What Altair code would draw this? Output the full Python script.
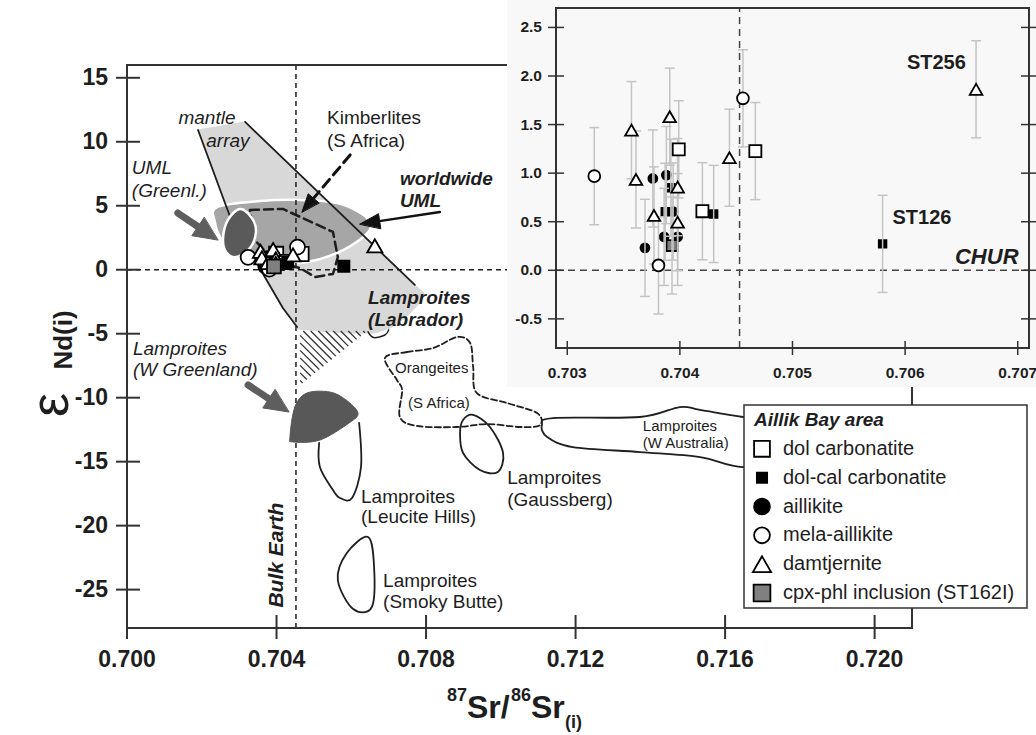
import math
import altair as alt
import pandas as pd

FONT = "Liberation Sans"
INK = "#1e1e1e"
AXIS = "#333333"

# ---------------------------------------------------------------------------
# Aillik Bay samples: initial 87Sr/86Sr, initial eNd and 2-sigma error on eNd
# ---------------------------------------------------------------------------
CATS = ["dol carbonatite", "dol-cal carbonatite", "aillikite",
        "mela-aillikite", "damtjernite", "cpx-phl inclusion (ST162I)"]

dol_sr = [0.70399, 0.70420, 0.70467]
dol_nd = [1.245, 0.608, 1.227]
dol_err = [0.5, 0.5, 0.5]

dolcal_sr = [0.70392, 0.70387, 0.70430, 0.70580]
dolcal_nd = [0.850, 0.602, 0.580, 0.272]
dolcal_err = [0.5, 0.5, 0.5, 0.5]

aill_sr = [0.70376, 0.70388, 0.70369, 0.70394, 0.70386, 0.70398]
aill_nd = [0.945, 0.980, 0.231, 0.605, 0.344, 0.344]
aill_err = [0.5, 0.5, 0.5, 0.5, 0.5, 0.5]

mela_sr = [0.70324, 0.70381, 0.70456]
mela_nd = [0.969, 0.050, 1.770]
mela_err = [0.5, 0.5, 0.5]

damt_sr = [0.70357, 0.70361, 0.70377, 0.70391, 0.70398, 0.70398, 0.70444, 0.70663]
damt_nd = [1.443, 0.935, 0.564, 1.581, 0.856, 0.495, 1.159, 1.863]
damt_err = [0.5, 0.5, 0.5, 0.5, 0.5, 0.5, 0.5, 0.5]

cpx_sr = [0.70393]
cpx_nd = [0.255]
cpx_err = [0.5]

SERIES = [(CATS[0], dol_sr, dol_nd, dol_err),
          (CATS[1], dolcal_sr, dolcal_nd, dolcal_err),
          (CATS[2], aill_sr, aill_nd, aill_err),
          (CATS[3], mela_sr, mela_nd, mela_err),
          (CATS[4], damt_sr, damt_nd, damt_err),
          (CATS[5], cpx_sr, cpx_nd, cpx_err)]

SHAPE = {CATS[0]: "square", CATS[1]: "square", CATS[2]: "circle",
         CATS[3]: "circle", CATS[4]: "triangle-up", CATS[5]: "square"}
FILL = {CATS[0]: "white", CATS[1]: "black", CATS[2]: "black",
        CATS[3]: "white", CATS[4]: "white", CATS[5]: "#808080"}
OPEN = {CATS[0], CATS[3], CATS[4]}
SIZE_MAIN = {CATS[0]: 200, CATS[1]: 125, CATS[2]: 170, CATS[3]: 225, CATS[4]: 230, CATS[5]: 190}
SIZE_INSET = {CATS[0]: 145, CATS[1]: 58, CATS[2]: 80, CATS[3]: 140, CATS[4]: 160, CATS[5]: 120}
SIZE_KEY = {CATS[0]: 250, CATS[1]: 105, CATS[2]: 250, CATS[3]: 250, CATS[4]: 330, CATS[5]: 280}

rows = []
for cat, xs, ys, es in SERIES:
    for x, y, e in zip(xs, ys, es):
        rows.append({"cat": cat, "sr": x, "nd": y, "lo": y - e, "hi": y + e,
                     "shape": SHAPE[cat], "fill": FILL[cat],
                     "s_main": SIZE_MAIN[cat], "s_inset": SIZE_INSET[cat],
                     "open": cat in OPEN})
samples = pd.DataFrame(rows)

# ---------------------------------------------------------------------------
# Scales: main diagram and inset share the canvas, each with its own pixels
# ---------------------------------------------------------------------------
MX_DOM, MX_RNG = [0.700, 0.721], [127, 912]
MY_DOM, MY_RNG = [-28, 16], [628, 65]
IX_DOM, IX_RNG = [0.7029, 0.7071], [556, 1029]
IY_DOM, IY_RNG = [-0.8, 2.7], [348, 8]
W, H = 1036, 735

MX = alt.Scale(domain=MX_DOM, range=MX_RNG, nice=False, zero=False)
MY = alt.Scale(domain=MY_DOM, range=MY_RNG, nice=False, zero=False)
IX = alt.Scale(domain=IX_DOM, range=IX_RNG, nice=False, zero=False)
IY = alt.Scale(domain=IY_DOM, range=IY_RNG, nice=False, zero=False)

# pixel size of one data unit on each scale (used for tick lengths / label gaps)
MXU = (MX_RNG[1] - MX_RNG[0]) / (MX_DOM[1] - MX_DOM[0])
MYU = (MY_RNG[0] - MY_RNG[1]) / (MY_DOM[1] - MY_DOM[0])
IXU = (IX_RNG[1] - IX_RNG[0]) / (IX_DOM[1] - IX_DOM[0])
IYU = (IY_RNG[0] - IY_RNG[1]) / (IY_DOM[1] - IY_DOM[0])


def m_px(sr, nd):
    return (MX_RNG[0] + (sr - MX_DOM[0]) * MXU, MY_RNG[0] - (nd - MY_DOM[0]) * MYU)


def m_data(px, py):
    return (MX_DOM[0] + (px - MX_RNG[0]) / MXU, MY_DOM[0] + (MY_RNG[0] - py) / MYU)


def mxy(xf="sr", yf="nd"):
    return dict(x=alt.X(f"{xf}:Q", scale=MX, axis=None), y=alt.Y(f"{yf}:Q", scale=MY, axis=None))


def ixy(xf="sr", yf="nd"):
    return dict(x=alt.X(f"{xf}:Q", scale=IX, axis=None), y=alt.Y(f"{yf}:Q", scale=IY, axis=None))


def shape_layer(pts, interp="linear-closed", fill="transparent", stroke="transparent",
                width=1.0, dash=None):
    df = pd.DataFrame({"sr": [p[0] for p in pts], "nd": [p[1] for p in pts],
                       "i": list(range(len(pts)))})
    kw = dict(interpolate=interp, fill=fill, stroke=stroke, strokeWidth=width,
              strokeJoin="round", strokeCap="round")
    if dash:
        kw["strokeDash"] = dash
    return alt.Chart(df).mark_line(**kw).encode(order="i:Q", **mxy())


def arrow_layers(tail, tip, color, shaft, head_len, head_w, dash=None):
    (x0, y0), (x1, y1) = m_px(*tail), m_px(*tip)
    L = math.hypot(x1 - x0, y1 - y0)
    ux, uy = (x1 - x0) / L, (y1 - y0) / L
    bx, by = x1 - ux * head_len, y1 - uy * head_len
    nx, ny = -uy, ux
    head = [m_data(x1, y1),
            m_data(bx + nx * head_w / 2, by + ny * head_w / 2),
            m_data(bx - nx * head_w / 2, by - ny * head_w / 2)]
    line_end = m_data(bx + ux * 2, by + uy * 2)
    kw = dict(interp="linear", stroke=color, width=shaft)
    if dash:
        kw["dash"] = dash
    return [shape_layer([tail, line_end], **kw),
            shape_layer(head, fill=color, stroke=color, width=1)]


def hatch_frame(poly, step):
    pts = [m_px(*p) for p in poly]
    cs = [y - x for x, y in pts]
    segs = []
    c = min(cs) + step / 2
    while c < max(cs):
        hits = []
        for (ax, ay), (bx, by) in zip(pts, pts[1:] + pts[:1]):
            den = (by - ay) - (bx - ax)
            if abs(den) < 1e-9:
                continue
            t = (ax + c - ay) / den
            if 0 <= t <= 1:
                hits.append((ax + t * (bx - ax), ay + t * (by - ay)))
        hits.sort()
        if len(hits) >= 2:
            a, b = m_data(*hits[0]), m_data(*hits[-1])
            segs.append({"sr": a[0], "nd": a[1], "sr2": b[0], "nd2": b[1]})
        c += step
    return pd.DataFrame(segs)


# ---------------------------------------------------------------------------
# Reference fields of the main Sr-Nd diagram (87Sr/86Sr, eNd)
# ---------------------------------------------------------------------------
mantle_left = [(0.70190, 10.92), (0.70276, 4.12), (0.70364, -0.33), (0.70417, -2.99), (0.70455, -4.48)]
mantle_right = [(0.70316, 11.55), (0.70770, -1.19)]
mantle_field = [(0.70190, 10.92), (0.70316, 11.55), (0.70770, -1.19), (0.70795, -1.82),
                (0.70778, -2.76), (0.70744, -3.77), (0.70704, -4.56), (0.70663, -4.95),
                (0.70597, -4.95), (0.70516, -4.79), (0.70455, -4.63), (0.70455, -4.48),
                (0.70417, -2.99), (0.70364, -0.33), (0.70276, 4.12)]
labrador_hatch = [(0.70463, -4.79), (0.70642, -4.79), (0.70463, -9.01)]
labrador_hook = [(0.70645, -4.85), (0.70660, -5.30), (0.70690, -5.10), (0.70700, -4.70)]
uml_world = [(0.70241, 4.90), (0.70356, 5.37), (0.70463, 5.45), (0.70562, 5.21), (0.70629, 4.35),
             (0.70653, 3.41), (0.70629, 2.48), (0.70562, 1.31), (0.70482, 0.60), (0.70383, 0.45),
             (0.70303, 0.92), (0.70254, 2.32), (0.70235, 3.73)]
uml_greenland = [(0.70302, 4.75), (0.70334, 4.04), (0.70345, 2.95), (0.70329, 1.70),
                 (0.70292, 0.99), (0.70265, 1.39), (0.70257, 2.48), (0.70270, 3.89)]
kimberlites = [(0.70329, 4.67), (0.70417, 4.75), (0.70551, 2.95), (0.70564, 0.99),
               (0.70551, -0.33), (0.70503, -0.57), (0.70463, 0.13), (0.70396, 0.60),
               (0.70342, 2.32)]
w_greenland = [(0.70436, -13.07), (0.70449, -10.73), (0.70481, -9.64), (0.70543, -9.56),
               (0.70586, -10.18), (0.70618, -11.20), (0.70594, -11.98), (0.70516, -13.31),
               (0.70444, -13.46)]
leucite_hills = [(0.70514, -13.54), (0.70516, -15.42), (0.70551, -17.22), (0.70570, -17.84),
                 (0.70602, -17.84), (0.70626, -15.42), (0.70621, -11.98)]
smoky_butte = [(0.70645, -20.89), (0.70661, -23.23), (0.70655, -26.36), (0.70605, -26.52),
               (0.70564, -24.25), (0.70588, -22.14)]
orangeites = [(0.70690, -6.90), (0.70749, -6.43), (0.70819, -6.12), (0.70883, -5.26),
              (0.70918, -5.73), (0.70926, -7.60), (0.70936, -9.64), (0.71017, -10.42),
              (0.71097, -11.20), (0.71105, -12.14), (0.71051, -12.29), (0.70963, -12.06),
              (0.70883, -12.29), (0.70776, -12.21), (0.70730, -11.51), (0.70736, -9.40),
              (0.70722, -8.62)]
gaussberg = [(0.70899, -11.75), (0.70926, -11.35), (0.70971, -12.29), (0.71006, -14.32),
             (0.70992, -15.81), (0.70944, -15.65), (0.70899, -14.32), (0.70891, -12.76)]
w_australia = [(0.71110, -12.14), (0.71140, -11.59), (0.71372, -11.51), (0.71479, -10.73),
               (0.71533, -10.96), (0.71648, -11.51), (0.71800, -12.14), (0.71800, -14.87),
               (0.71648, -15.42), (0.71533, -14.64), (0.71372, -14.25), (0.71193, -13.86),
               (0.71124, -13.07)]

BULK_EARTH_SR = 0.70452
CHUR_ND = 0.0

# field labels: (text, sr, eNd)
lab_italic = [("mantle", 0.70214, 11.86), ("array", 0.70270, 10.06),
              ("UML", 0.70013, 7.95), ("(Greenl.)", 0.70013, 6.15),
              ("Lamproites", 0.70016, -6.20), ("(W Greenland)", 0.70016, -7.84)]
lab_plain = [("Kimberlites", 0.70535, 11.86), ("(S Africa)", 0.70535, 10.06),
             ("Lamproites", 0.70626, -17.76), ("(Leucite Hills)", 0.70626, -19.33),
             ("Lamproites", 0.71017, -16.28), ("(Gaussberg)", 0.71017, -18.00),
             ("Lamproites", 0.70685, -24.33), ("(Smoky Butte)", 0.70685, -25.97)]
lab_bold = [("worldwide", 0.70730, 7.09), ("UML", 0.70730, 5.37),
            ("Lamproites", 0.70645, -2.21), ("(Labrador)", 0.70645, -3.93)]
lab_small = [("Orangeites", 0.70717, -7.68), ("(S Africa)", 0.70752, -10.42),
             ("Lamproites", 0.71380, -12.21), ("(W Australia)", 0.71380, -13.54)]


def text_layer(items, panel, size, style="normal", weight="normal", align="left",
               angle=0, color=INK):
    df = pd.DataFrame({"t": [i[0] for i in items], "sr": [i[1] for i in items],
                       "nd": [i[2] for i in items]})
    enc = mxy() if panel == "main" else ixy()
    return alt.Chart(df).mark_text(font=FONT, fontSize=size, fontStyle=style,
                                   fontWeight=weight, align=align, baseline="middle",
                                   angle=angle, color=color).encode(text="t:N", **enc)


def rule_layer(df, enc, width, color=AXIS):
    return alt.Chart(df).mark_rule(color=color, strokeWidth=width).encode(
        x2="sr2:Q", y2="nd2:Q", **enc())


def axis_layers(xvals, xfmt, yvals, yfmt, dom_x, dom_y, ux, uy, enc,
                out_px, in_px, lab_gap_x, lab_gap_y, size, width, right_ticks=False):
    """Crossing tick marks plus bold tick labels for one panel."""
    n, m = len(xvals), len(yvals)
    tx = pd.DataFrame({"sr": xvals, "sr2": xvals,
                       "nd": [dom_y[0] - out_px[0] / uy] * n, "nd2": [dom_y[0] + in_px[0] / uy] * n})
    ty = pd.DataFrame({"nd": yvals, "nd2": yvals,
                       "sr": [dom_x[0] - out_px[1] / ux] * m, "sr2": [dom_x[0] + in_px[1] / ux] * m})
    layers = [rule_layer(tx, enc, width), rule_layer(ty, enc, width)]
    if right_ticks:
        tr = pd.DataFrame({"nd": yvals, "nd2": yvals,
                           "sr": [dom_x[1] - in_px[1] / ux] * m, "sr2": [dom_x[1] + out_px[1] / ux] * m})
        layers.append(rule_layer(tr, enc, width))
    lx = pd.DataFrame({"sr": xvals, "nd": [dom_y[0] - lab_gap_x / uy] * n,
                       "t": [format(v, xfmt) for v in xvals]})
    ly = pd.DataFrame({"nd": yvals, "sr": [dom_x[0] - lab_gap_y / ux] * m,
                       "t": [format(v, yfmt) for v in yvals]})
    layers.append(alt.Chart(lx).mark_text(font=FONT, fontSize=size, fontWeight="bold",
                                          align="center", baseline="middle", color=INK).encode(
        text="t:N", **enc()))
    layers.append(alt.Chart(ly).mark_text(font=FONT, fontSize=size, fontWeight="bold",
                                          align="right", baseline="middle", color=INK).encode(
        text="t:N", **enc()))
    return layers


def frame_layer(dom_x, dom_y, enc, width):
    df = pd.DataFrame({"sr": [dom_x[0]], "sr2": [dom_x[1]], "nd": [dom_y[0]], "nd2": [dom_y[1]]})
    return alt.Chart(df).mark_rect(fill="transparent", stroke=AXIS, strokeWidth=width).encode(
        x2="sr2:Q", y2="nd2:Q", **enc())


# ------------------------------- main panel --------------------------------
main_ticks_x = [0.700, 0.704, 0.708, 0.712, 0.716, 0.720]
main_ticks_y = [-25, -20, -15, -10, -5, 0, 5, 10, 15]

ref_main = alt.Chart(pd.DataFrame({
    "sr": [BULK_EARTH_SR, MX_DOM[0]], "sr2": [BULK_EARTH_SR, MX_DOM[1]],
    "nd": [MY_DOM[0], CHUR_ND], "nd2": [MY_DOM[1], CHUR_ND]})).mark_rule(
    color=INK, strokeWidth=1.5, strokeDash=[5, 4]).encode(x2="sr2:Q", y2="nd2:Q", **mxy())

hatch = alt.Chart(hatch_frame(labrador_hatch, 7.5)).mark_rule(
    color="#333333", strokeWidth=1.3).encode(x2="sr2:Q", y2="nd2:Q", **mxy())

main_layers = [
    shape_layer(mantle_field, fill="#d8d8d8", stroke="#d8d8d8", width=1),
    hatch,
    shape_layer(uml_world, interp="cardinal-closed", fill="#a6a6a6", stroke="white", width=2.5),
    shape_layer(mantle_left, interp="linear", stroke=INK, width=1.8),
    shape_layer(mantle_right, interp="linear", stroke=INK, width=1.8),
    shape_layer(labrador_hook, interp="cardinal", stroke=INK, width=1.5),
    ref_main,
    shape_layer(kimberlites, stroke=INK, width=2.5, dash=[9, 5]),
    shape_layer(orangeites, interp="cardinal-closed", stroke=INK, width=1.8, dash=[6, 3]),
    shape_layer(gaussberg, interp="cardinal-closed", stroke=INK, width=1.8),
    shape_layer(w_australia, interp="cardinal-closed", stroke=INK, width=1.8),
    shape_layer(leucite_hills, interp="cardinal", stroke=INK, width=1.8),
    shape_layer(smoky_butte, interp="cardinal-closed", stroke=INK, width=1.8),
    shape_layer(w_greenland, interp="cardinal-closed", fill="#585858", stroke="#585858", width=1),
    shape_layer(uml_greenland, interp="cardinal-closed", fill="#5a5a5a", stroke="white", width=2.5),
    frame_layer(MX_DOM, MY_DOM, mxy, 2),
]
main_layers += arrow_layers((0.70136, 4.43), (0.70243, 2.32), "#5e5e5e", 7, 24, 22)
main_layers += arrow_layers((0.70324, -9.01), (0.70433, -11.12), "#5e5e5e", 7, 24, 22)
main_layers += arrow_layers((0.70597, 8.97), (0.70468, 4.51), "#111111", 3, 18, 14, dash=[10, 6])
main_layers += arrow_layers((0.70837, 4.51), (0.70623, 3.57), "#111111", 2.5, 20, 15)
main_layers += axis_layers(main_ticks_x, ".3f", main_ticks_y, "d", MX_DOM, MY_DOM, MXU, MYU, mxy,
                           out_px=(11, 11), in_px=(13, 13), lab_gap_x=32, lab_gap_y=19,
                           size=23, width=2)
main_layers += [
    text_layer(lab_italic[:2], "main", 19, style="italic", align="center"),
    text_layer(lab_italic[2:], "main", 19, style="italic"),
    text_layer(lab_plain, "main", 19),
    text_layer(lab_bold, "main", 19, style="italic", weight="bold"),
    text_layer(lab_small, "main", 15),
    text_layer([("Bulk Earth", 0.70401, -22.30)], "main", 21, style="italic", weight="bold",
               align="center", angle=270),
]
for cat in CATS:
    sub = samples[samples["cat"] == cat]
    main_layers.append(
        alt.Chart(sub).mark_point(filled=True, stroke="black", strokeWidth=1.8, opacity=1).encode(
            shape=alt.Shape("shape:N", scale=None), fill=alt.Fill("fill:N", scale=None),
            size=alt.Size("s_main:Q", scale=None), **mxy()))

main = alt.layer(*main_layers)

# ------------------------------- inset panel -------------------------------
inset_ticks_x = [0.703, 0.704, 0.705, 0.706, 0.707]
inset_ticks_y = [-0.5, 0.0, 0.5, 1.0, 1.5, 2.0, 2.5]

inset_bg = alt.Chart(pd.DataFrame({"k": [0]})).mark_rect(fill="#f8f8f8").encode(
    x=alt.value(507), x2=alt.value(W), y=alt.value(0), y2=alt.value(387))

ref_inset = alt.Chart(pd.DataFrame({
    "sr": [0.70453, IX_DOM[0]], "sr2": [0.70453, IX_DOM[1]],
    "nd": [IY_DOM[0], CHUR_ND], "nd2": [IY_DOM[1], CHUR_ND]})).mark_rule(
    color="#444444", strokeWidth=1.5, strokeDash=[7, 5]).encode(x2="sr2:Q", y2="nd2:Q", **ixy())

BAR = "#c4c4c4"
bars = alt.Chart(samples).mark_rule(color=BAR, strokeWidth=1.5).encode(
    y2="hi:Q", **ixy("sr", "lo"))
caps = [alt.Chart(samples).mark_tick(orient="horizontal", color=BAR, size=10, thickness=1.5,
                                     opacity=1).encode(**ixy("sr", f)) for f in ("lo", "hi")]


def inset_points(df):
    return alt.Chart(df).mark_point(filled=True, stroke="black", strokeWidth=1.8, opacity=1).encode(
        shape=alt.Shape("shape:N", scale=None), fill=alt.Fill("fill:N", scale=None),
        size=alt.Size("s_inset:Q", scale=None), **ixy())


inset_layers = [inset_bg, ref_inset,
                inset_points(samples[~samples["open"]]), bars] + caps + [
    inset_points(samples[samples["open"]]),
    text_layer([("ST256", 0.706539, 2.138)], "inset", 20, weight="bold", align="right"),
    text_layer([("ST126", 0.705888, 0.540)], "inset", 20, weight="bold"),
    text_layer([("CHUR", 0.707007, 0.134)], "inset", 22, style="italic", weight="bold",
               align="right"),
    frame_layer(IX_DOM, IY_DOM, ixy, 2),
]
inset_layers += axis_layers(inset_ticks_x, ".3f", inset_ticks_y, ".1f", IX_DOM, IY_DOM, IXU, IYU, ixy,
                            out_px=(7, 8), in_px=(7, 8), lab_gap_x=25, lab_gap_y=14,
                            size=15.5, width=1.5, right_ticks=True)
inset = alt.layer(*inset_layers)

# --------------------------- key and axis titles ---------------------------
key = pd.DataFrame({"row": list(range(1, 7)), "label": CATS,
                    "shape": [SHAPE[c] for c in CATS], "fill": [FILL[c] for c in CATS],
                    "size": [SIZE_KEY[c] for c in CATS]})
KY = alt.Scale(domain=[0, 6], range=[420, 593], nice=False, zero=False)
one = pd.DataFrame({"k": [0]})

key_layers = [
    alt.Chart(one).mark_rect(fill="white", stroke="#333333", strokeWidth=1.5).encode(
        x=alt.value(744), x2=alt.value(1027), y=alt.value(405), y2=alt.value(608)),
    alt.Chart(pd.DataFrame({"row": [0], "t": ["Aillik Bay area"]})).mark_text(
        font=FONT, fontSize=19, fontStyle="italic", fontWeight="bold", align="left",
        baseline="middle", color=INK).encode(
        x=alt.value(754), y=alt.Y("row:Q", scale=KY, axis=None), text="t:N"),
    alt.Chart(key).mark_point(filled=True, stroke="black", strokeWidth=1.8, opacity=1).encode(
        x=alt.value(762), y=alt.Y("row:Q", scale=KY, axis=None),
        shape=alt.Shape("shape:N", scale=None), fill=alt.Fill("fill:N", scale=None),
        size=alt.Size("size:Q", scale=None)),
    alt.Chart(key).mark_text(font=FONT, fontSize=20, align="left", baseline="middle",
                             color=INK).encode(
        x=alt.value(783), y=alt.Y("row:Q", scale=KY, axis=None), text="label:N"),
]


def title_piece(txt, px, py, size, angle=0, align="left", weight="bold"):
    return alt.Chart(pd.DataFrame({"t": [txt]})).mark_text(
        font=FONT, fontSize=size, fontWeight=weight, align=align, baseline="alphabetic",
        angle=angle, color=INK).encode(x=alt.value(px), y=alt.value(py), text="t:N")


title_layers = [
    title_piece("87", 447, 701, 18),
    title_piece("Sr/", 467, 718, 32),
    title_piece("86", 511, 701, 18),
    title_piece("Sr", 531, 718, 32),
    title_piece("(i)", 565, 728, 18),
    title_piece("\u03b5", 68, 405, 54, angle=270, align="center", weight="normal"),
    title_piece("Nd(i)", 72, 340, 26, angle=270, align="center"),
]
key_chart = alt.layer(*(key_layers + title_layers))

chart = alt.layer(main, inset, key_chart).resolve_scale(
    x="independent", y="independent").properties(
    width=W, height=H, autosize=alt.AutoSizeParams(type="none"), padding=0,
    background="white").configure_view(strokeWidth=0)

chart.save("out.html", embed_options={"renderer": "svg", "actions": False})
